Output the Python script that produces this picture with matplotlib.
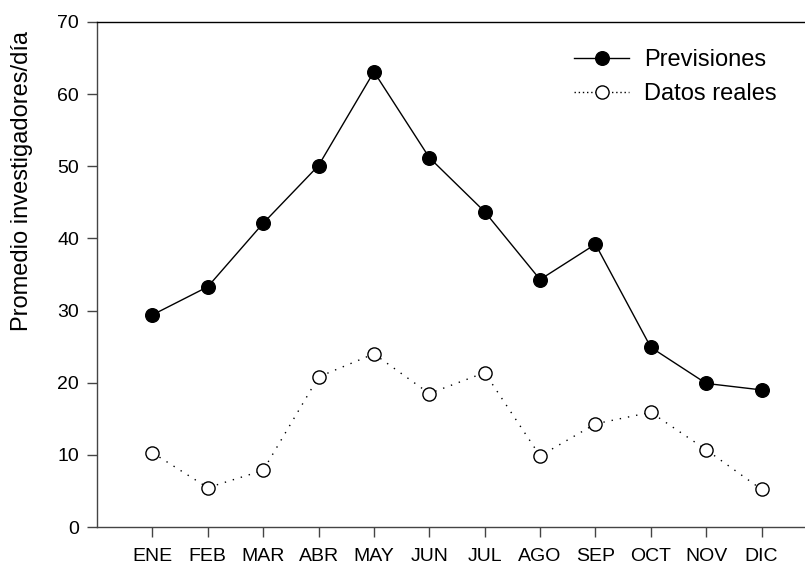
import matplotlib
matplotlib.use("Agg")
import matplotlib.pyplot as plt
from matplotlib.lines import Line2D

months = ["ENE", "FEB", "MAR", "ABR", "MAY", "JUN", "JUL", "AGO", "SEP", "OCT", "NOV", "DIC"]
previsiones = [29.4, 33.3, 42.1, 50.1, 63.1, 51.2, 43.7, 34.3, 39.2, 24.9, 19.9, 19.0]
datos_reales = [10.3, 5.45, 7.85, 20.8, 24.0, 18.5, 21.4, 9.85, 14.3, 15.9, 10.7, 5.2]
yticks = [0, 10, 20, 30, 40, 50, 60, 70]

plt.rcParams['font.family'] = ['Liberation Sans', 'DejaVu Sans']

W, H = 805, 565
fig = plt.figure(figsize=(W / 100, H / 100), dpi=100)
left, right, top, bottom = 97, 817, 22, 527
ax = fig.add_axes([left / W, 1 - bottom / H, (right - left) / W, (bottom - top) / H])

x = list(range(len(months)))
ax.plot(x, previsiones, color="black", lw=1.0, marker="o", ms=9.8,
        mfc="black", mec="black", label="Previsiones", clip_on=False)
ax.plot(x, datos_reales, color="black", lw=1.0, ls=(0, (1, 5)), marker="o", ms=9.5,
        mfc="white", mec="black", mew=1.0, label="Datos reales", clip_on=False)

ax.set_xlim(-1, 12)
ax.set_ylim(0, 70)
ax.set_xticks(x)
ax.set_xticklabels(months)
ax.set_yticks(yticks)
ax.tick_params(axis="both", direction="out", length=7, width=1, labelsize=14, color="#444444")
ax.tick_params(axis="x", pad=8)
ax.tick_params(axis="y", pad=6)
ax.spines["right"].set_visible(False)
for s in ["left", "bottom", "top"]:
    ax.spines[s].set_linewidth(1.0)
ax.spines["left"].set_color("#444444")
ax.spines["bottom"].set_color("#444444")
ax.spines["top"].set_color("black")

ax.set_ylabel("Promedio investigadores/día", fontsize=17)
ax.yaxis.set_label_coords((22 - left) / (right - left), (bottom - 181) / (bottom - top))
ax.yaxis.label.set_verticalalignment("center")

handles = [
    Line2D([0], [0], color="black", lw=1.0, marker="o", ms=9.8, mfc="black", mec="black"),
    Line2D([0], [0], color="black", lw=1.0, ls=(0, (1, 2)), marker="o", ms=9.5, mfc="white", mec="black"),
]
fig.legend(handles, ["Previsiones", "Datos reales"], loc="upper left",
           bbox_to_anchor=(574 / W, 1 - 49 / H), frameon=False, fontsize=17,
           handlelength=2.35, handletextpad=0.6, labelspacing=0.5, borderaxespad=0,
           borderpad=0)

fig.savefig("out.png", dpi=100)
